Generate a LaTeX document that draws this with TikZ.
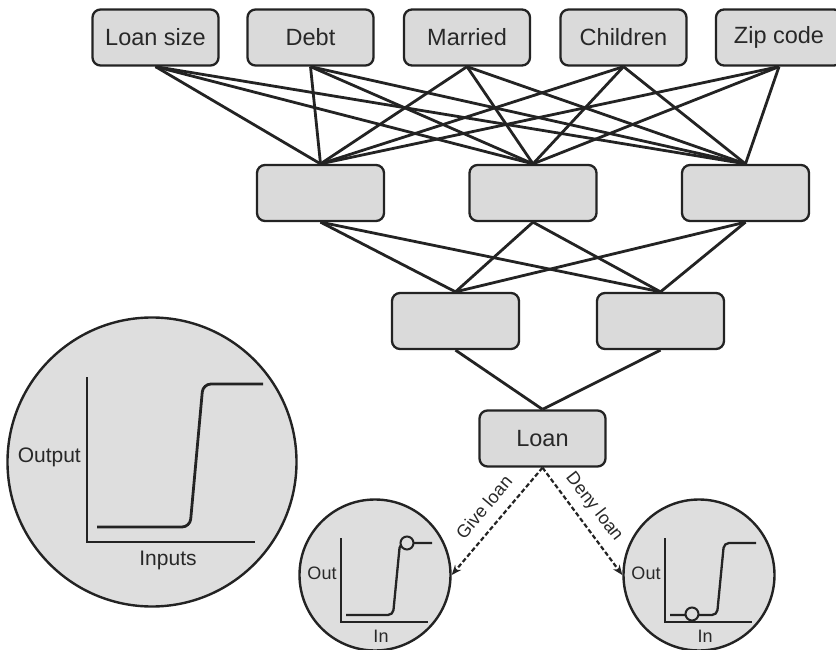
\documentclass[tikz,border=0pt]{standalone}
\usepackage{fontspec}
\setmainfont{Liberation Sans}
\usetikzlibrary{arrows.meta}
\definecolor{boxfill}{RGB}{218,218,218}
\definecolor{ink}{RGB}{35,35,35}
\definecolor{txt}{RGB}{40,40,40}
\definecolor{circfill}{RGB}{222,222,222}
\begin{document}
\begin{tikzpicture}[x=1pt,y=-1pt,
  box/.style={draw=ink, line width=2.3pt, fill=boxfill, rounded corners=8pt,
    minimum width=126pt, minimum height=56pt, inner sep=0pt,
    font=\fontsize{23.5}{27}\selectfont, text=txt},
  link/.style={draw=ink, line width=2.8pt},
  circ/.style={circle, draw=ink, line width=2.4pt, fill=circfill, inner sep=0pt},
  axis/.style={draw=ink, line width=2.8pt},
  curve/.style={draw=ink, line width=2.8pt, rounded corners=8pt},
  saxis/.style={draw=ink, line width=2.3pt},
  scurve/.style={draw=ink, line width=2.3pt, rounded corners=5pt},
  lbl/.style={font=\fontsize{21}{25}\selectfont, text=txt, inner sep=0pt},
  slbl/.style={font=\fontsize{18}{21}\selectfont, text=txt, inner sep=0pt},
  dlink/.style={draw=ink, line width=2.2pt, dash pattern=on 4.5pt off 2.5pt,
    -{Stealth[length=10pt,width=8pt]}},
  marker/.style={circle, draw=ink, line width=2pt, fill=circfill, minimum size=13pt, inner sep=0pt}
]
\useasboundingbox (0,0) rectangle (836,650);

% input layer
\node[box] (in1) at (155.5,37.5) {Loan size};
\node[box] (in2) at (310.5,37.5) {Debt};
\node[box] (in3) at (467,37.5) {Married};
\node[box] (in4) at (623.5,37.5) {Children};
\node[box] (in5) at (779,37.5) {Zip code};

% hidden layer 1
\node[box, minimum width=127pt] (h1) at (320.5,193) {};
\node[box, minimum width=127pt] (h2) at (533,193) {};
\node[box, minimum width=127pt] (h3) at (745.5,193) {};

% hidden layer 2
\node[box, minimum width=127pt] (g1) at (455.5,321) {};
\node[box, minimum width=127pt] (g2) at (660.5,321) {};

% output
\node[box] (out) at (542.5,438.5) {Loan};

% connectors
\foreach \i in {1,...,5}{
  \foreach \j in {1,2,3}{
    \draw[link] (in\i.south) -- (h\j.north);
  }
}
\foreach \j in {1,2,3}{
  \foreach \k in {1,2}{
    \draw[link] (h\j.south) -- (g\k.north);
  }
}
\draw[link] (g1.south) -- (out.north);
\draw[link] (g2.south) -- (out.north);

% big circle
\node[circ, minimum size=289pt] (big) at (152,462) {};
\coordinate (bo) at (87,542);
\draw[axis] (87,377) -- (bo) -- (255,542);
\draw[curve] (97,527) -- (190,527) -- (203,384) -- (263,384);
\node[lbl, anchor=east] (bout) at (81,457) {Output};
\node[lbl] (bin) at (168,560) {Inputs};

% small circles
\node[circ, minimum size=151pt] (lc) at (375,575) {};
\node[circ, minimum size=151pt] (rc) at (699,575) {};

\draw[saxis] (341,538) -- (341,622) -- (428,622);
\draw[scurve] (346,615) -- (393,615) -- (400,543) -- (432,543);
\node[marker] (lm) at (407,543) {};
\node[slbl] (lo) at (322,573) {Out};
\node[slbl] (li) at (381,636) {In};

\draw[saxis] (665,538) -- (665,622) -- (752,622);
\draw[scurve] (670,615) -- (717,615) -- (724,543) -- (756,543);
\node[marker] (rm) at (692,614) {};
\node[slbl] (ro) at (646,573) {Out};
\node[slbl] (ri) at (705,636) {In};

% decision arrows
\draw[dlink] (out.south) -- (lc.east);
\draw[dlink] (out.south) -- (rc.west);
\node[slbl, rotate=50] (give) at (484,507) {Give loan};
\node[slbl, rotate=-52] (deny) at (594,507) {Deny loan};
\end{tikzpicture}
\end{document}
